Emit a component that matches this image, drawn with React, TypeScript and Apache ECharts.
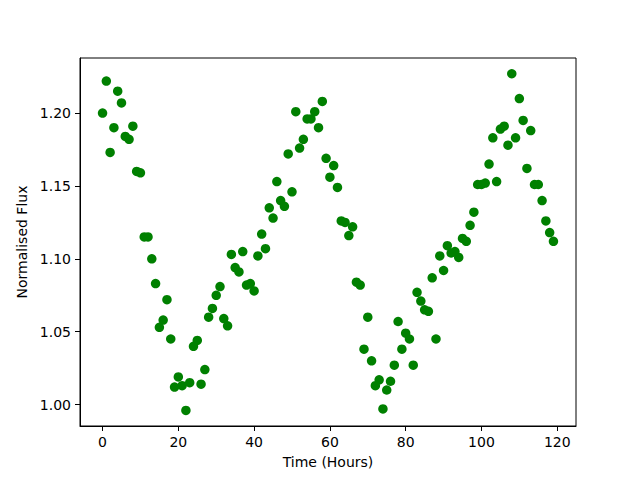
import React, { useEffect, useRef } from "react";
import * as echarts from "echarts";

const hours: number[] = Array.from({ length: 120 }, (_, i) => i);

const flux: number[] = [
  1.200, 1.222, 1.173, 1.190, 1.215, 1.207, 1.184, 1.182, 1.191, 1.160,
  1.159, 1.115, 1.115, 1.100, 1.083, 1.053, 1.058, 1.072, 1.045, 1.012,
  1.019, 1.013, 0.996, 1.015, 1.040, 1.044, 1.014, 1.024, 1.060, 1.066,
  1.075, 1.081, 1.059, 1.054, 1.103, 1.094, 1.091, 1.105, 1.082, 1.083,
  1.078, 1.102, 1.117, 1.107, 1.135, 1.128, 1.153, 1.140, 1.136, 1.172,
  1.146, 1.201, 1.176, 1.182, 1.196, 1.196, 1.201, 1.190, 1.208, 1.169,
  1.156, 1.164, 1.149, 1.126, 1.125, 1.116, 1.122, 1.084, 1.082, 1.038,
  1.060, 1.030, 1.013, 1.017, 0.997, 1.010, 1.016, 1.027, 1.057, 1.038,
  1.049, 1.045, 1.027, 1.077, 1.071, 1.065, 1.064, 1.087, 1.045, 1.102,
  1.092, 1.109, 1.104, 1.105, 1.101, 1.114, 1.112, 1.123, 1.132, 1.151,
  1.151, 1.152, 1.165, 1.183, 1.153, 1.189, 1.191, 1.178, 1.227, 1.183,
  1.210, 1.195, 1.162, 1.188, 1.151, 1.151, 1.140, 1.126, 1.118, 1.112,
];

const xTicks: number[] = [0, 20, 40, 60, 80, 100, 120];
const yTicks: number[] = [1.0, 1.05, 1.1, 1.15, 1.2];

export default function App() {
  const ref = useRef<HTMLDivElement>(null);
  useEffect(() => {
    if (!ref.current) return;
    const chart = echarts.init(ref.current, null, { renderer: "svg" });
    const font = "DejaVu Sans";
    chart.setOption({
      animation: false,
      backgroundColor: "#ffffff",
      grid: {
        left: 80,
        right: 64,
        top: 58,
        bottom: 54,
        show: true,
        borderColor: "#000000",
        borderWidth: 1,
        backgroundColor: "transparent",
      },
      xAxis: {
        type: "value",
        min: -5.95,
        max: 124.95,
        name: "Time (Hours)",
        nameLocation: "middle",
        nameGap: 29,
        nameTextStyle: { fontFamily: font, fontSize: 14, color: "#000" },
        axisLine: { show: true, onZero: false, lineStyle: { color: "#000", width: 1 } },
        axisTick: { show: true, inside: false, length: 5, customValues: xTicks, lineStyle: { color: "#000" } },
        axisLabel: {
          customValues: xTicks,
          margin: 9,
          fontFamily: font,
          fontSize: 14,
          color: "#000",
        },
        splitLine: { show: false },
      },
      yAxis: {
        type: "value",
        min: 0.9853,
        max: 1.2378,
        name: "Normalised Flux",
        nameLocation: "middle",
        nameGap: 43,
        nameRotate: 90,
        nameTextStyle: { fontFamily: font, fontSize: 14, color: "#000" },
        axisLine: { show: true, onZero: false, lineStyle: { color: "#000", width: 1 } },
        axisTick: { show: true, inside: false, length: 5, customValues: yTicks, lineStyle: { color: "#000" } },
        axisLabel: {
          customValues: yTicks,
          margin: 9,
          fontFamily: font,
          fontSize: 14,
          color: "#000",
          formatter: (v: number) => v.toFixed(2),
        },
        splitLine: { show: false },
      },
      series: [
        {
          type: "scatter",
          data: hours.map((h, i) => [h, flux[i]]),
          symbol: "circle",
          symbolSize: 9.5,
          itemStyle: { color: "#008000", opacity: 1 },
        },
      ],
    });
    return () => chart.dispose();
  }, []);
  return <div ref={ref} style={{ width: 640, height: 480, position: "absolute", left: 0, top: 0 }} />;
}
